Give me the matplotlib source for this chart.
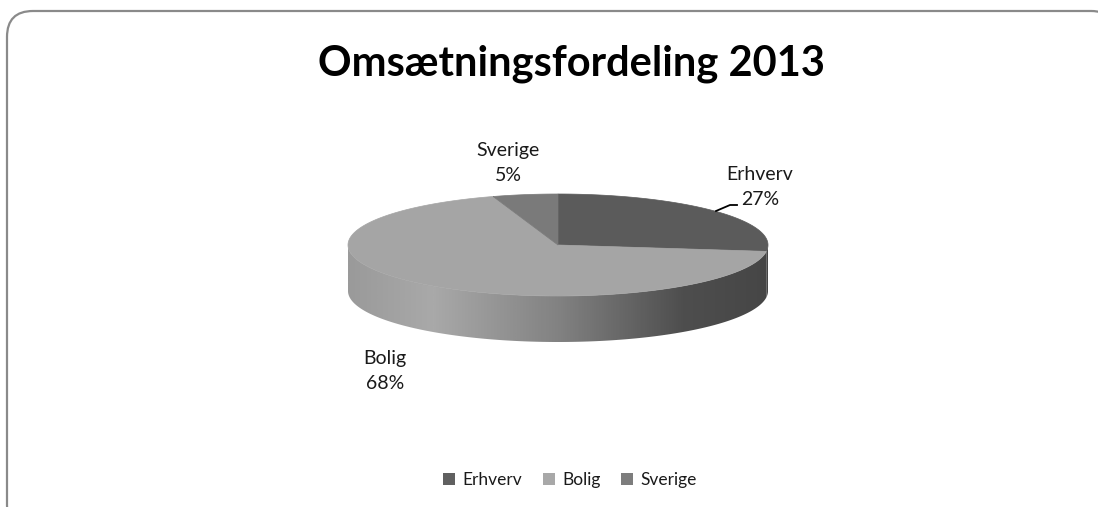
import numpy as np
import matplotlib
matplotlib.use("Agg")
import matplotlib.pyplot as plt
from matplotlib.patches import Polygon, FancyBboxPatch, Patch
from matplotlib.colors import LinearSegmentedColormap

# ---- data ----
categories = ["Erhverv", "Bolig", "Sverige"]
values = [27, 68, 5]
top_colors = ["#5b5b5b", "#a5a5a5", "#7a7a7a"]
legend_colors = ["#606060", "#a8a8a8", "#7d7d7d"]
title = "Omsætningsfordeling 2013"

W, H = 1098, 507
fig = plt.figure(figsize=(W / 100, H / 100), dpi=100)
ax = fig.add_axes([0, 0, 1, 1])
ax.set_xlim(0, W)
ax.set_ylim(H, 0)
ax.axis("off")

FONT = ["Lato", "DejaVu Sans"]

# border
border = FancyBboxPatch((7, 11), 1110, 520, boxstyle="round,pad=0,rounding_size=26",
                        fc="white", ec="#8a8a8a", lw=1.6, zorder=0)
ax.add_patch(border)

# ---- 3D pie geometry ----
cx, cy, rx, ry, depth = 558, 245, 210, 51, 46


def pt(t, dy=0.0):
    return cx + rx * np.cos(t), cy - ry * np.sin(t) + dy


total = float(sum(values))
starts, ends = [], []
a = np.pi / 2
for v in values:
    span = 2 * np.pi * v / total
    starts.append(a - span)
    ends.append(a)
    a -= span

# side gradient
side_cmap = LinearSegmentedColormap.from_list(
    "side", [(0.0, "#9a9a9a"), (0.2, "#a9a9a9"), (0.5, "#828282"),
             (0.8, "#4e4e4e"), (1.0, "#464646")])
grad = np.linspace(0, 1, 400)[None, :]

for i, (s, e) in enumerate(zip(starts, ends)):
    ss, ee = s % (2 * np.pi), e % (2 * np.pi)
    if ee <= ss:
        ee += 2 * np.pi
    segs = []
    for base in (np.pi, 3 * np.pi):
        lo, hi = max(ss, base), min(ee, base + np.pi)
        if hi > lo:
            segs.append((lo, hi))
    for lo, hi in segs:
        t = np.linspace(lo, hi, 200)
        xt, yt = pt(t)
        xb, yb = pt(t[::-1], depth)
        poly = Polygon(np.column_stack([np.r_[xt, xb], np.r_[yt, yb]]),
                       closed=True, fc="none", ec="none")
        ax.add_patch(poly)
        im = ax.imshow(grad, cmap=side_cmap, vmin=0, vmax=1,
                       extent=[cx - rx, cx + rx, cy + ry + depth + 2, cy - ry - 2],
                       aspect="auto", zorder=2, interpolation="bilinear")
        im.set_clip_path(poly)

# top faces
for i, (s, e) in enumerate(zip(starts, ends)):
    t = np.linspace(s, e, 200)
    xs, ys = pt(t)
    poly = Polygon(np.column_stack([np.r_[cx, xs], np.r_[cy, ys]]), closed=True,
                   fc=top_colors[i], ec=top_colors[i], lw=0.5, zorder=3)
    ax.add_patch(poly)

# ---- labels ----
lab_kw = dict(fontsize=14, family=FONT, color="#1a1a1a", ha="center", va="center",
              linespacing=1.55, zorder=5)
label_pos = [(760, 187), (385, 371), (508, 163)]
for c, v, (lx, ly) in zip(categories, values, label_pos):
    ax.text(lx, ly, f"{c}\n{v}%", **lab_kw)

# leader line for Erhverv
ax.plot([716, 730, 737], [211, 205, 205], color="black", lw=1.3, zorder=4)

ax.text(572, 64, title, fontsize=30, fontweight="bold", family=FONT,
        color="black", ha="center", va="center", zorder=5)

handles = [Patch(fc=c, ec="none") for c in legend_colors]
leg = ax.legend(handles, categories, loc="center", bbox_to_anchor=(570 / W, 1 - 480 / H),
                ncol=3, frameon=False, handlelength=0.7, handleheight=0.7,
                handletextpad=0.4, columnspacing=1.2,
                prop={"family": FONT, "size": 12.5})
for t in leg.get_texts():
    t.set_color("#1a1a1a")

fig.savefig("out.png", dpi=100)
